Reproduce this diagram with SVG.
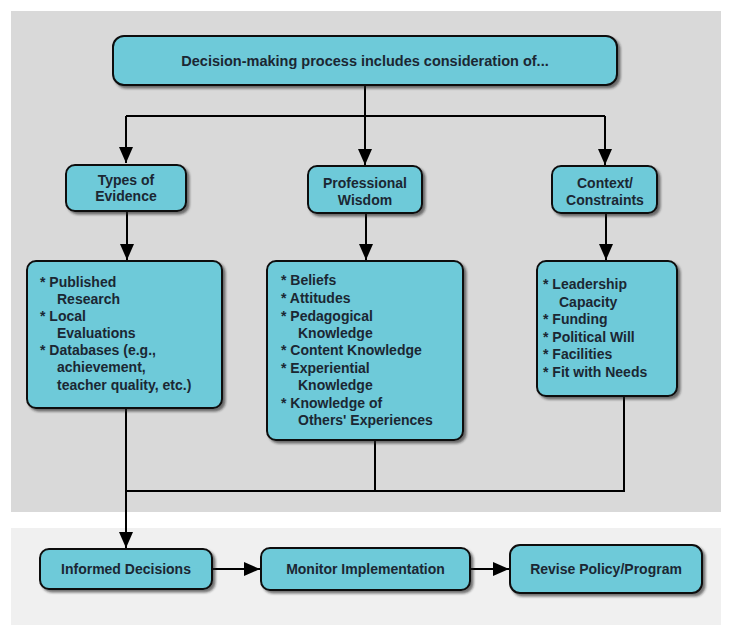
<svg xmlns="http://www.w3.org/2000/svg" width="743" height="640" viewBox="0 0 743 640">
<defs>
<filter id="sh" x="-10%" y="-10%" width="130%" height="140%">
<feDropShadow dx="2.5" dy="2.5" stdDeviation="1.2" flood-color="#222" flood-opacity="0.6"/>
</filter>
<marker id="ah" viewBox="0 0 16 14" refX="16" refY="7" markerWidth="16" markerHeight="14" markerUnits="userSpaceOnUse" orient="auto">
<path d="M0,0 L16,7 L0,14 Z" fill="#000"/>
</marker>
<style>
.box{fill:#6ecad9;stroke:#111;stroke-width:2;filter:url(#sh)}
.t{font-family:"Liberation Sans",Arial,sans-serif;font-weight:bold;font-size:14px;fill:#1b2733}
.c{text-anchor:middle}
.ln{fill:none;stroke:#000;stroke-width:2}
</style>
</defs>
<rect x="0" y="0" width="743" height="640" fill="#fff"/>
<rect x="11" y="11" width="710" height="501" fill="#d9d9d9"/>
<rect x="11" y="528" width="710" height="97" fill="#f0f0f0"/>

<g id="connectors">
<path class="ln" d="M365,86 V116"/>
<path class="ln" d="M126,116 H605"/>
<path class="ln" d="M126,116 V163" marker-end="url(#ah)"/>
<path class="ln" d="M365,116 V165" marker-end="url(#ah)"/>
<path class="ln" d="M605,116 V165" marker-end="url(#ah)"/>
<path class="ln" d="M127,212 V260" marker-end="url(#ah)"/>
<path class="ln" d="M366,214 V260" marker-end="url(#ah)"/>
<path class="ln" d="M606,214 V260" marker-end="url(#ah)"/>
<path class="ln" d="M375,441 V491"/>
<path class="ln" d="M624,397 V491 H126"/>
<path class="ln" d="M126,409 V548" marker-end="url(#ah)"/>
<path class="ln" d="M213,569 H260" marker-end="url(#ah)"/>
<path class="ln" d="M471,569 H509" marker-end="url(#ah)"/>
</g>

<g id="top">
<rect class="box" x="113" y="36" width="504" height="49" rx="11"/>
<text class="t c" x="365" y="66" style="font-size:14.5px">Decision-making process includes consideration of...</text>
</g>

<g id="types">
<rect class="box" x="66" y="165" width="120" height="46" rx="9"/>
<text class="t c" x="126" y="185">Types of</text>
<text class="t c" x="126" y="201">Evidence</text>
</g>

<g id="wisdom">
<rect class="box" x="308" y="166" width="114" height="47" rx="9"/>
<text class="t c" x="365" y="188">Professional</text>
<text class="t c" x="365" y="205">Wisdom</text>
</g>

<g id="context">
<rect class="box" x="552" y="166" width="105" height="47" rx="9"/>
<text class="t c" x="605" y="188">Context/</text>
<text class="t c" x="605" y="205">Constraints</text>
</g>

<g id="evidence-list">
<rect class="box" x="27" y="261" width="195" height="147" rx="9"/>
<text class="t" x="40" y="287">* Published</text>
<text class="t" x="57" y="304">Research</text>
<text class="t" x="40" y="321">* Local</text>
<text class="t" x="57" y="338">Evaluations</text>
<text class="t" x="40" y="355">* Databases (e.g.,</text>
<text class="t" x="57" y="372">achievement,</text>
<text class="t" x="57" y="390">teacher quality, etc.)</text>
</g>

<g id="wisdom-list">
<rect class="box" x="267" y="261" width="196" height="179" rx="9"/>
<text class="t" x="281" y="285">* Beliefs</text>
<text class="t" x="281" y="303">* Attitudes</text>
<text class="t" x="281" y="321">* Pedagogical</text>
<text class="t" x="298" y="338">Knowledge</text>
<text class="t" x="281" y="355">* Content Knowledge</text>
<text class="t" x="281" y="373">* Experiential</text>
<text class="t" x="298" y="390">Knowledge</text>
<text class="t" x="281" y="408">* Knowledge of</text>
<text class="t" x="298" y="425">Others' Experiences</text>
</g>

<g id="context-list">
<rect class="box" x="537" y="261" width="140" height="135" rx="9"/>
<text class="t" x="543" y="289">* Leadership</text>
<text class="t" x="559" y="307">Capacity</text>
<text class="t" x="543" y="324">* Funding</text>
<text class="t" x="543" y="342">* Political Will</text>
<text class="t" x="543" y="359">* Facilities</text>
<text class="t" x="543" y="377">* Fit with Needs</text>
</g>

<g id="informed">
<rect class="box" x="40" y="549" width="172" height="40" rx="9"/>
<text class="t c" x="126" y="574">Informed Decisions</text>
</g>

<g id="monitor">
<rect class="box" x="261" y="548" width="209" height="42" rx="9"/>
<text class="t c" x="365.5" y="574">Monitor Implementation</text>
</g>

<g id="revise">
<rect class="box" x="510" y="545" width="192" height="48" rx="10"/>
<text class="t c" x="606" y="574">Revise Policy/Program</text>
</g>
</svg>
